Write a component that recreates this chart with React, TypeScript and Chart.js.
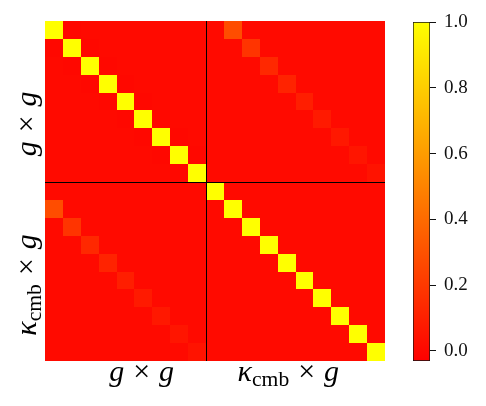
import React, { useEffect, useRef } from "react";
import { Chart, registerables } from "chart.js";

Chart.register(...registerables);

// ---- data ----
const nGG = 9; // g x g bins
const nKG = 10; // kappa_cmb x g bins
const diagValue = 1.0;
const backgroundValue = 0.01;
const ggFirstOffDiag = [0.0, 0.0, 0.0, 0.0, 0.0, 0.0, 0.0, 0.0];
// correlation of g x g bin i with kappa x g bin i+1
const crossDiag = [0.28, 0.18, 0.13, 0.11, 0.09, 0.075, 0.065, 0.055, 0.045];
const cbMin = -0.031;
const cbMax = 1.0;
const cbTicks = [0.0, 0.2, 0.4, 0.6, 0.8, 1.0];
const xLabelPos = [5.4, 13.6];
const yLabelPos = [5.75, 14.75];

const N = nGG + nKG;

function buildMatrix(): number[][] {
  const m: number[][] = [];
  for (let i = 0; i < N; i++) {
    const row: number[] = [];
    for (let j = 0; j < N; j++) row.push(backgroundValue);
    m.push(row);
  }
  for (let i = 0; i < N; i++) m[i][i] = diagValue;
  ggFirstOffDiag.forEach((v, i) => {
    m[i][i + 1] = v;
    m[i + 1][i] = v;
  });
  crossDiag.forEach((v, i) => {
    m[i][nGG + i + 1] = v;
    m[nGG + i + 1][i] = v;
  });
  return m;
}

function colorFor(v: number): string {
  let t = (v - cbMin) / (cbMax - cbMin);
  t = Math.max(0, Math.min(1, t));
  return `rgb(255, ${Math.round(255 * t)}, 0)`;
}

type Part = { t?: string; italic?: boolean; scale?: number; dy?: number; gap?: number };

const FONT = '"Liberation Serif", "DejaVu Serif", serif';

function drawMath(
  ctx: CanvasRenderingContext2D,
  parts: Part[],
  x: number,
  y: number,
  size: number,
  rotate: boolean
) {
  ctx.save();
  ctx.translate(x, y);
  if (rotate) ctx.rotate(-Math.PI / 2);
  ctx.fillStyle = "#000";
  ctx.textBaseline = "alphabetic";
  ctx.textAlign = "left";
  const widths = parts.map((p) => {
    if (p.gap) return p.gap * size;
    ctx.font = `${p.italic ? "italic " : ""}${size * (p.scale || 1)}px ${FONT}`;
    return ctx.measureText(p.t || "").width;
  });
  const total = widths.reduce((a, b) => a + b, 0);
  let cx = -total / 2;
  parts.forEach((p, k) => {
    if (!p.gap) {
      ctx.font = `${p.italic ? "italic " : ""}${size * (p.scale || 1)}px ${FONT}`;
      ctx.fillText(p.t || "", cx, (p.dy || 0) * size);
    }
    cx += widths[k];
  });
  ctx.restore();
}

const ggParts: Part[] = [
  { t: "g", italic: true },
  { gap: 0.3 },
  { t: "×" },
  { gap: 0.3 },
  { t: "g", italic: true },
];
const kgParts: Part[] = [
  { t: "κ", italic: true },
  { t: "cmb", scale: 0.72, dy: 0.17 },
  { gap: 0.3 },
  { t: "×" },
  { gap: 0.3 },
  { t: "g", italic: true },
];

export default function App() {
  const mainRef = useRef<HTMLCanvasElement | null>(null);
  const cbRef = useRef<HTMLCanvasElement | null>(null);

  useEffect(() => {
    const matrix = buildMatrix();
    const cells: { x: number; y: number; v: number }[] = [];
    matrix.forEach((row, i) => row.forEach((v, j) => cells.push({ x: j + 0.5, y: i + 0.5, v })));

    const heatPlugin = {
      id: "heat",
      beforeDatasetsDraw(chart: any) {
        const ctx: CanvasRenderingContext2D = chart.ctx;
        const xs = chart.scales.x;
        const ys = chart.scales.y;
        ctx.save();
        cells.forEach((c) => {
          const x0 = Math.round(xs.getPixelForValue(c.x - 0.5));
          const x1 = Math.round(xs.getPixelForValue(c.x + 0.5));
          const y0 = Math.round(ys.getPixelForValue(c.y - 0.5));
          const y1 = Math.round(ys.getPixelForValue(c.y + 0.5));
          ctx.fillStyle = colorFor(c.v);
          ctx.fillRect(x0, y0, x1 - x0, y1 - y0);
        });
        // block dividers
        ctx.strokeStyle = "#000";
        ctx.lineWidth = 1;
        const xd = Math.round(xs.getPixelForValue(nGG)) + 0.5;
        const yd = Math.round(ys.getPixelForValue(nGG)) + 0.5;
        ctx.beginPath();
        ctx.moveTo(xd, ys.getPixelForValue(0));
        ctx.lineTo(xd, ys.getPixelForValue(N));
        ctx.moveTo(xs.getPixelForValue(0), yd);
        ctx.lineTo(xs.getPixelForValue(N), yd);
        ctx.stroke();
        // labels
        const size = 30;
        const bottom = ys.getPixelForValue(N);
        drawMath(ctx, ggParts, xs.getPixelForValue(xLabelPos[0]), bottom + 20, size, false);
        drawMath(ctx, kgParts, xs.getPixelForValue(xLabelPos[1]), bottom + 20, size, false);
        const left = xs.getPixelForValue(0);
        drawMath(ctx, ggParts, left - 9, ys.getPixelForValue(yLabelPos[0]), size, true);
        drawMath(ctx, kgParts, left - 9, ys.getPixelForValue(yLabelPos[1]), size, true);
        ctx.restore();
      },
    };

    const main = new Chart(mainRef.current as HTMLCanvasElement, {
      type: "scatter",
      data: { datasets: [{ data: cells as any, pointRadius: 0 }] },
      options: {
        animation: false,
        responsive: false,
        events: [],
        layout: { padding: { left: 45, right: 101, top: 21, bottom: 45 } },
        plugins: { legend: { display: false }, tooltip: { enabled: false } },
        scales: {
          x: { type: "linear", min: 0, max: N, display: false },
          y: { type: "linear", min: 0, max: N, reverse: true, display: false },
        },
      },
      plugins: [heatPlugin],
    });

    const cb = new Chart(cbRef.current as HTMLCanvasElement, {
      type: "bar",
      data: {
        labels: [""],
        datasets: [
          {
            data: [[cbMin, cbMax]] as any,
            backgroundColor: (c: any) => {
              const chart = c.chart;
              const area = chart.chartArea;
              if (!area) return "rgb(255,128,0)";
              const g = chart.ctx.createLinearGradient(0, area.bottom, 0, area.top);
              g.addColorStop(0, "rgb(255,0,0)");
              g.addColorStop(1, "rgb(255,255,0)");
              return g;
            },
            borderColor: "#111",
            borderWidth: 1,
            borderSkipped: false,
            barPercentage: 1,
            categoryPercentage: 1,
          } as any,
        ],
      },
      options: {
        animation: false,
        responsive: false,
        events: [],
        layout: { padding: { left: 413, right: 6, top: 22, bottom: 45 } },
        plugins: { legend: { display: false }, tooltip: { enabled: false } },
        scales: {
          x: { display: false },
          y: {
            position: "right",
            min: cbMin,
            max: cbMax,
            afterBuildTicks: (s: any) => {
              s.ticks = cbTicks.map((v) => ({ value: v }));
            },
            afterFit: (s: any) => {
              s.width = 50;
            },
            grid: { drawOnChartArea: false, drawTicks: true, tickLength: 6, color: "#111" },
            border: { display: false },
            ticks: {
              callback: (v: any) => Number(v).toFixed(1),
              font: { family: FONT, size: 19 },
              color: "#111",
              padding: 8,
            },
          },
        },
      },
    });

    return () => {
      main.destroy();
      cb.destroy();
    };
  }, []);

  return (
    <div style={{ position: "fixed", left: 0, top: 0, width: 486, height: 406, background: "#fff" }}>
      <canvas ref={mainRef} width={486} height={406} style={{ position: "absolute", left: 0, top: 0 }} />
      <canvas ref={cbRef} width={486} height={406} style={{ position: "absolute", left: 0, top: 0 }} />
    </div>
  );
}
